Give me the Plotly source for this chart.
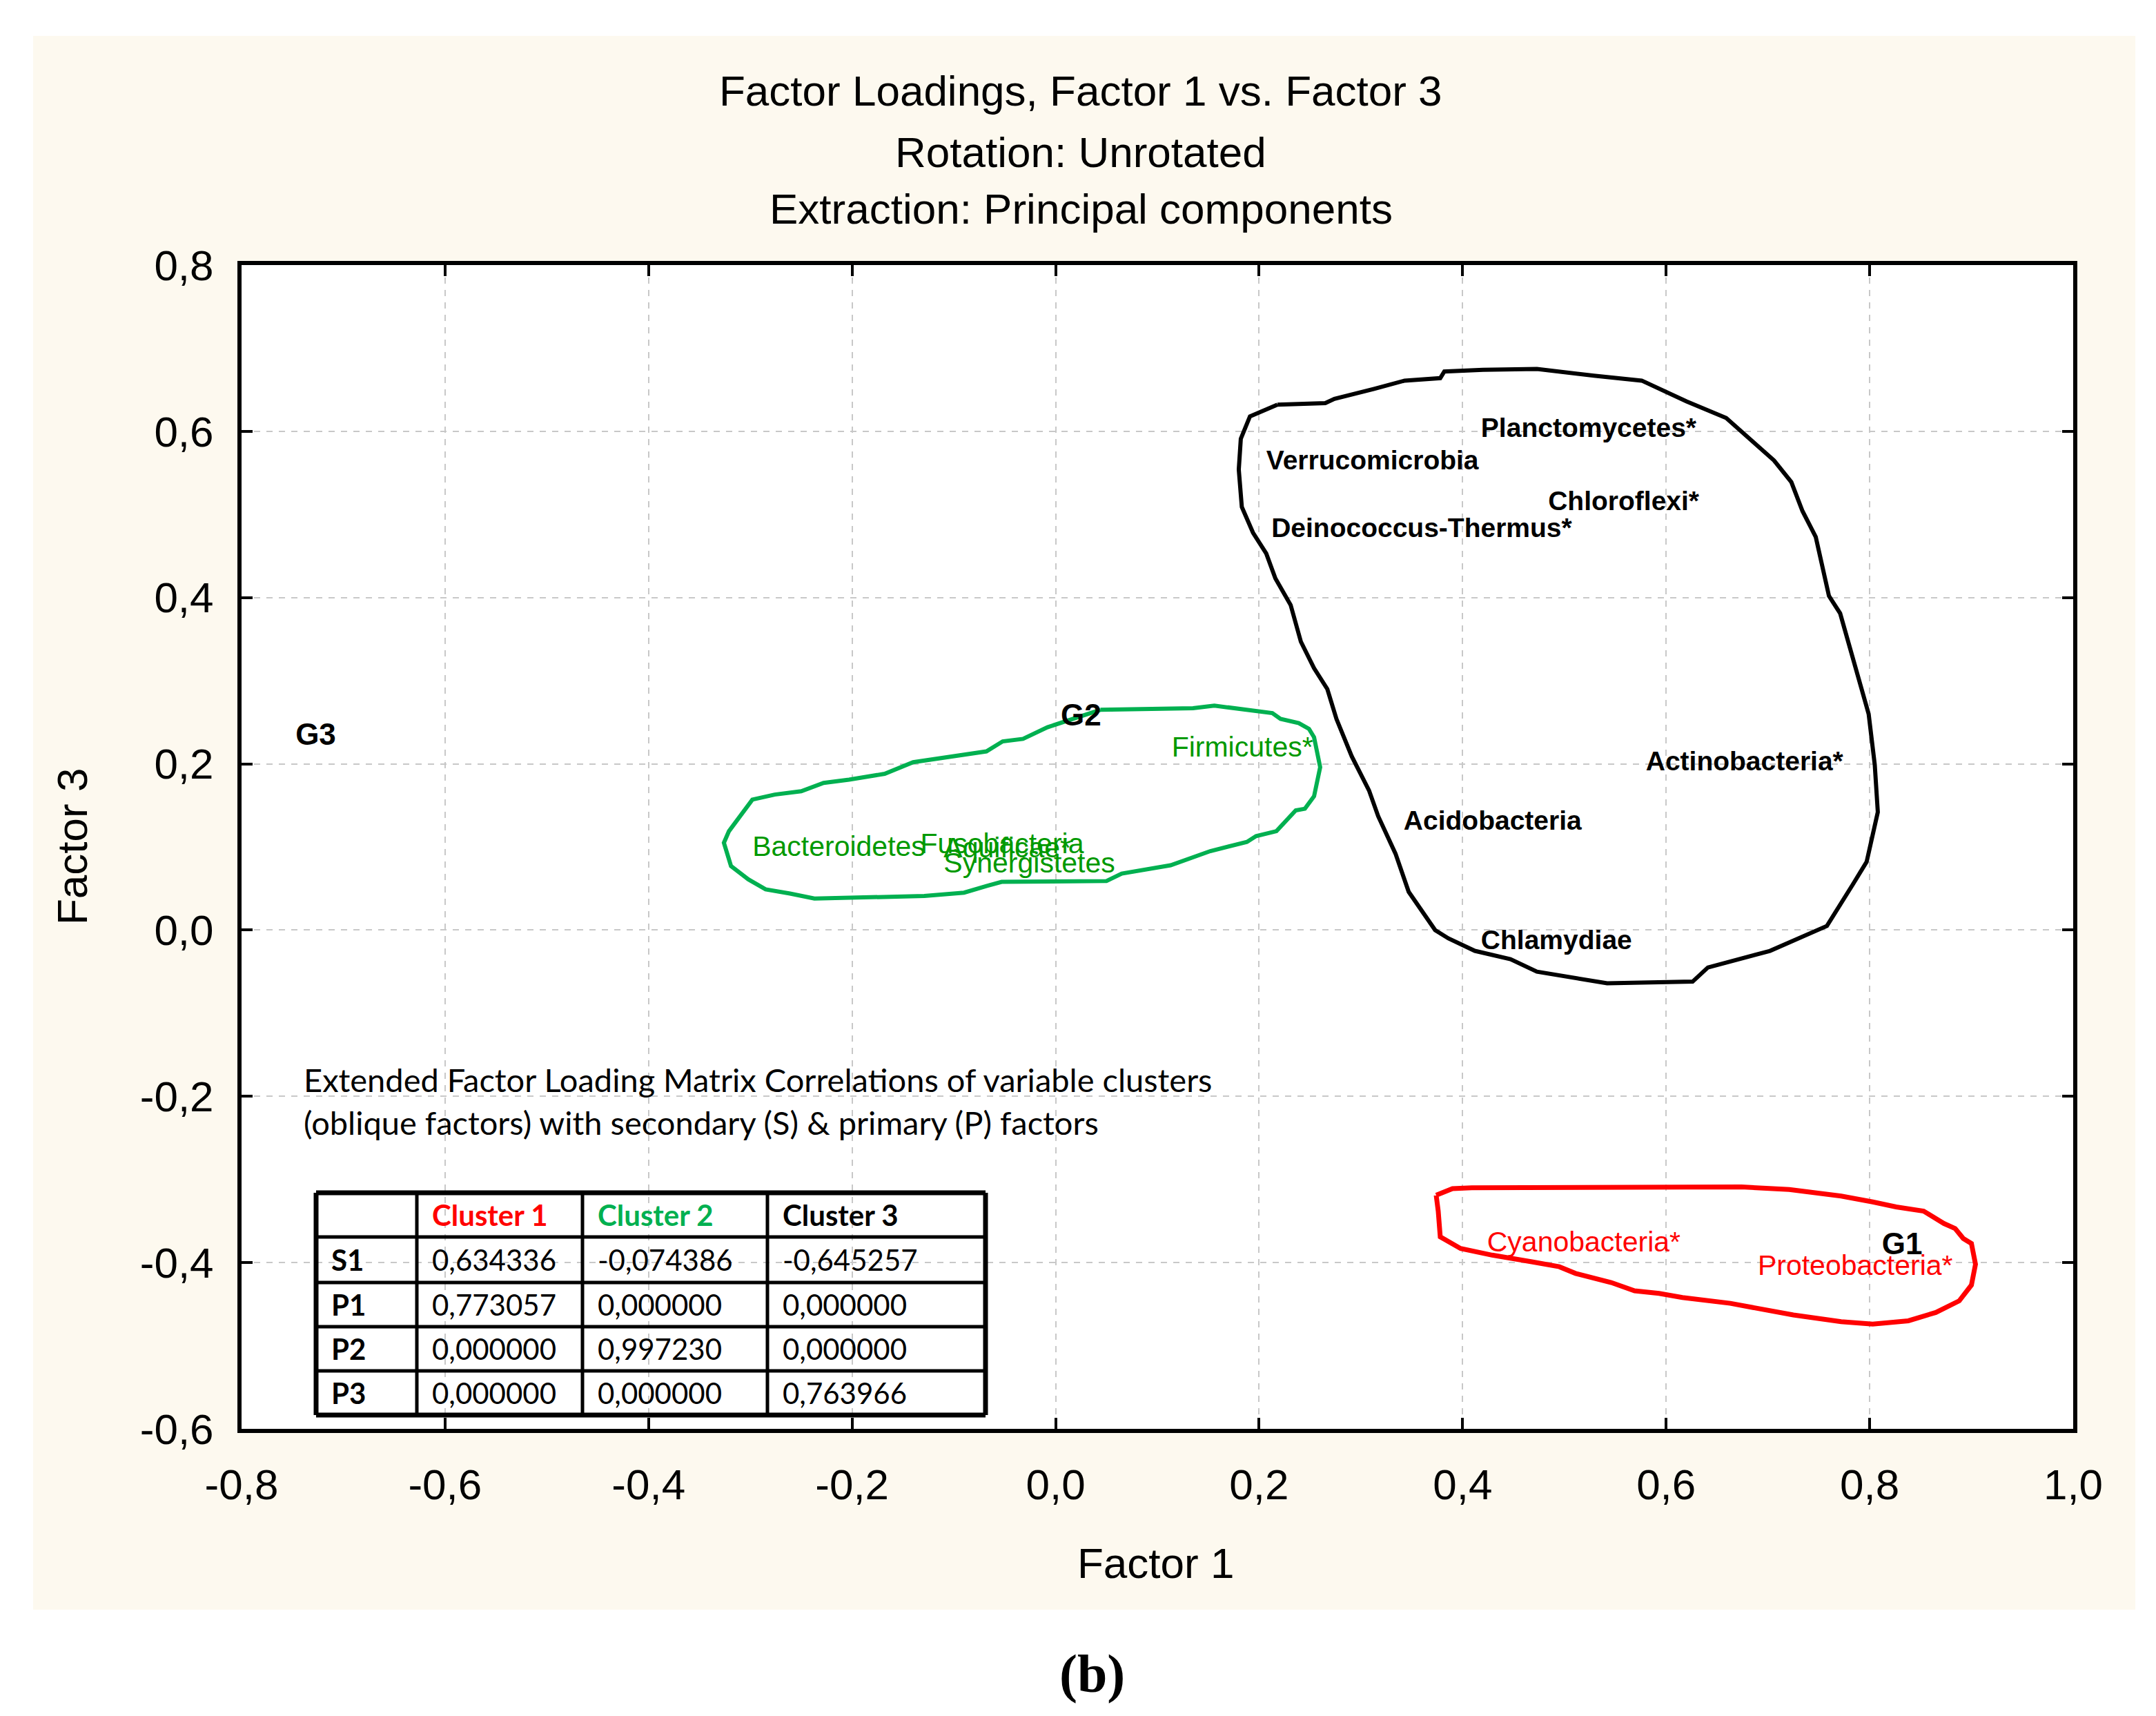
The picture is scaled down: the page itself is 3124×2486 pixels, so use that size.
import plotly.graph_objects as go

# ---------------- data ----------------
# Labelled variables (factor 1 loading, factor 3 loading)
black_names = ["Planctomycetes*", "Verrucomicrobia", "Chloroflexi*", "Deinococcus-Thermus*",
               "Actinobacteria*", "Acidobacteria", "Chlamydiae"]
black_f1 = [0.418, 0.207, 0.484, 0.212, 0.580, 0.342, 0.418]
black_f3 = [0.601, 0.562, 0.513, 0.481, 0.200, 0.129, -0.015]

green_names = ["Firmicutes*", "Bacteroidetes", "Fusobacteria", "Aquificae*", "Synergistetes"]
green_f1 = [0.114, -0.298, -0.133, -0.110, -0.110]
green_f3 = [0.217, 0.098, 0.101, 0.096, 0.078]

red_names = ["Cyanobacteria*", "Proteobacteria*"]
red_f1 = [0.424, 0.690]
red_f3 = [-0.378, -0.406]

group_names = ["G1", "G2", "G3"]
group_f1 = [0.812, 0.005, -0.747]
group_f3 = [-0.381, 0.255, 0.232]

# Hand-drawn cluster outlines (factor 1, factor 3)
black_hull_x = [0.218, 0.191, 0.182, 0.180, 0.183, 0.194, 0.207, 0.216, 0.231, 0.241, 0.254, 0.267,
                0.276, 0.291, 0.308, 0.317, 0.334, 0.347, 0.373, 0.386, 0.412, 0.447, 0.473, 0.542,
                0.626, 0.641, 0.702, 0.758, 0.784, 0.797, 0.808, 0.805, 0.799, 0.784, 0.771, 0.760,
                0.747, 0.734, 0.723, 0.706, 0.697, 0.671, 0.659, 0.620, 0.576, 0.529, 0.473, 0.420,
                0.382, 0.378, 0.343, 0.313, 0.274, 0.265, 0.218]
black_hull_y = [0.632, 0.618, 0.591, 0.554, 0.509, 0.478, 0.453, 0.423, 0.391, 0.347, 0.315, 0.290,
                0.254, 0.209, 0.168, 0.137, 0.092, 0.046, 0.000, -0.010, -0.025, -0.035, -0.050, -0.064,
                -0.062, -0.045, -0.025, 0.005, 0.056, 0.082, 0.142, 0.199, 0.260, 0.326, 0.381, 0.402,
                0.473, 0.504, 0.539, 0.565, 0.575, 0.603, 0.616, 0.636, 0.661, 0.667, 0.675, 0.674,
                0.672, 0.664, 0.661, 0.651, 0.639, 0.634, 0.632]

green_hull_x = [0.044, 0.135, 0.156, 0.195, 0.213, 0.221, 0.239, 0.249, 0.254, 0.260, 0.254, 0.245,
                0.236, 0.217, 0.197, 0.188, 0.152, 0.113, 0.065, 0.050, -0.053, -0.068, -0.090, -0.129,
                -0.237, -0.261, -0.285, -0.302, -0.319, -0.326, -0.321, -0.298, -0.276, -0.250, -0.228,
                -0.203, -0.168, -0.140, -0.099, -0.068, -0.052, -0.032, -0.008, 0.018, 0.044]
green_hull_y = [0.265, 0.267, 0.270, 0.264, 0.261, 0.254, 0.249, 0.242, 0.232, 0.196, 0.161, 0.146,
                0.144, 0.119, 0.113, 0.106, 0.095, 0.078, 0.068, 0.059, 0.058, 0.053, 0.045, 0.041,
                0.038, 0.044, 0.049, 0.061, 0.077, 0.105, 0.119, 0.157, 0.163, 0.167, 0.177,
                0.181, 0.188, 0.202, 0.210, 0.215, 0.227, 0.230, 0.244, 0.255, 0.265]

red_hull_x = [0.374, 0.390, 0.409, 0.553, 0.674, 0.721, 0.772, 0.803, 0.826, 0.853, 0.873, 0.884,
              0.892, 0.900, 0.904, 0.900, 0.888, 0.865, 0.838, 0.803, 0.772, 0.725, 0.663, 0.616,
              0.593, 0.569, 0.546, 0.511, 0.495, 0.468, 0.429, 0.398, 0.378, 0.376, 0.374]
red_hull_y = [-0.319, -0.311, -0.310, -0.309, -0.309, -0.312, -0.320, -0.327, -0.333, -0.338, -0.353, -0.359,
              -0.371, -0.377, -0.402, -0.427, -0.446, -0.460, -0.470, -0.474, -0.471, -0.463, -0.449, -0.442,
              -0.437, -0.434, -0.424, -0.413, -0.405, -0.399, -0.391, -0.383, -0.369, -0.338, -0.319]

# Axis ticks
x_ticks = [-0.8, -0.6, -0.4, -0.2, 0.0, 0.2, 0.4, 0.6, 0.8, 1.0]
x_tick_labels = ["-0,8", "-0,6", "-0,4", "-0,2", "0,0", "0,2", "0,4", "0,6", "0,8", "1,0"]
y_ticks = [-0.6, -0.4, -0.2, 0.0, 0.2, 0.4, 0.6, 0.8]
y_tick_labels = ["-0,6", "-0,4", "-0,2", "0,0", "0,2", "0,4", "0,6", "0,8"]

# Inset table
table_columns = ["", "Cluster 1", "Cluster 2", "Cluster 3"]
table_rows = ["S1", "P1", "P2", "P3"]
table_values = [
    ["0,634336", "-0,074386", "-0,645257"],
    ["0,773057", "0,000000", "0,000000"],
    ["0,000000", "0,997230", "0,000000"],
    ["0,000000", "0,000000", "0,763966"],
]
header_colors = ["#000000", "#FF0000", "#00B050", "#000000"]

title_lines = ["Factor Loadings, Factor 1 vs. Factor 3", "Rotation: Unrotated",
               "Extraction: Principal components"]
note_lines = ["Extended Factor Loading Matrix Correlations of variable clusters",
              "(oblique factors) with secondary (S) & primary (P) factors"]

# ---------------- layout geometry (pixels) ----------------
W, H = 3124, 2486
PL, PT, PR, PB = 342, 376, 2996, 2062
PW, PH = PR - PL, PB - PT


def px(x):
    return (x - PL) / PW


def py(y):
    return (PB - y) / PH


ARIAL = "Liberation Sans, Arial, sans-serif"
CALIBRI = "Lato, Carlito, Calibri, sans-serif"

fig = go.Figure()

# cluster outlines
fig.add_trace(go.Scatter(x=black_hull_x, y=black_hull_y, mode="lines",
                         line=dict(color="#000000", width=6), hoverinfo="skip"))
fig.add_trace(go.Scatter(x=green_hull_x, y=green_hull_y, mode="lines",
                         line=dict(color="#00B050", width=6), hoverinfo="skip"))
fig.add_trace(go.Scatter(x=red_hull_x, y=red_hull_y, mode="lines",
                         line=dict(color="#FF0000", width=7), hoverinfo="skip"))

# labels
fig.add_trace(go.Scatter(x=black_f1, y=black_f3, text=black_names, mode="text",
                         textposition="middle right",
                         textfont=dict(family=ARIAL, size=39, color="#000000", weight="bold")))
fig.add_trace(go.Scatter(x=green_f1, y=green_f3, text=green_names, mode="text",
                         textposition="middle right",
                         textfont=dict(family=ARIAL, size=41, color="#009900")))
fig.add_trace(go.Scatter(x=red_f1, y=red_f3, text=red_names, mode="text",
                         textposition="middle right",
                         textfont=dict(family=ARIAL, size=41, color="#FF0000")))
fig.add_trace(go.Scatter(x=group_f1, y=group_f3, text=group_names, mode="text",
                         textposition="middle right",
                         textfont=dict(family=ARIAL, size=44, color="#000000", weight="bold")))

shapes = [
    # cream outer panel
    dict(type="rect", xref="paper", yref="paper", x0=px(40), x1=px(3086), y0=py(44), y1=py(2324),
         fillcolor="#FDF9EF", line=dict(width=0), layer="below"),
    # white plot area
    dict(type="rect", xref="paper", yref="paper", x0=0, x1=1, y0=0, y1=1,
         fillcolor="#FFFFFF", line=dict(width=0), layer="below"),
]

# table grid
col_edges = [450, 596, 836, 1104, 1420]
row_edges = [1720, 1784, 1850, 1914, 1978, 2042]
for i, cx in enumerate(col_edges):
    w = 7 if i in (0, len(col_edges) - 1) else 5
    shapes.append(dict(type="line", xref="paper", yref="paper", x0=px(cx), x1=px(cx),
                       y0=py(row_edges[0]), y1=py(row_edges[-1]), line=dict(color="#000000", width=w)))
for j, ry in enumerate(row_edges):
    w = 7 if j in (0, len(row_edges) - 1) else 5
    shapes.append(dict(type="line", xref="paper", yref="paper", x0=px(col_edges[0]), x1=px(col_edges[-1]),
                       y0=py(ry), y1=py(ry), line=dict(color="#000000", width=w)))

annotations = []
# titles
for yy, t in zip([123, 212, 294], title_lines):
    annotations.append(dict(text=t, xref="paper", yref="paper", x=px(1558), y=py(yy), showarrow=False,
                            xanchor="center", yanchor="middle",
                            font=dict(family=ARIAL, size=62, color="#000000")))
# axis titles
annotations.append(dict(text="Factor 1", xref="paper", yref="paper", x=px(1666), y=py(2256), showarrow=False,
                        xanchor="center", yanchor="middle", font=dict(family=ARIAL, size=62, color="#000000")))
annotations.append(dict(text="Factor 3", xref="paper", yref="paper", x=px(96), y=py(1219), showarrow=False,
                        xanchor="center", yanchor="middle", textangle=-90,
                        font=dict(family=ARIAL, size=62, color="#000000")))
# panel label
annotations.append(dict(text="<b>(b)</b>", xref="paper", yref="paper", x=px(1574), y=py(2416), showarrow=False,
                        xanchor="center", yanchor="middle",
                        font=dict(family="Liberation Serif, Times New Roman, serif", size=78, color="#000000")))
# note text
for yy, t in zip([1556, 1618], note_lines):
    annotations.append(dict(text=t, xref="paper", yref="paper", x=px(430), y=py(yy), showarrow=False,
                            xanchor="left", yanchor="middle",
                            font=dict(family=CALIBRI, size=47, color="#000000")))
# table text
pad = 20
for c, (name, colr) in enumerate(zip(table_columns, header_colors)):
    if name:
        annotations.append(dict(text="<b>" + name + "</b>", xref="paper", yref="paper",
                                x=px(col_edges[c] + pad), y=py((row_edges[0] + row_edges[1]) / 2),
                                showarrow=False, xanchor="left", yanchor="middle",
                                font=dict(family=CALIBRI, size=42, color=colr)))
for r, rname in enumerate(table_rows):
    yc = (row_edges[r + 1] + row_edges[r + 2]) / 2
    annotations.append(dict(text="<b>" + rname + "</b>", xref="paper", yref="paper",
                            x=px(col_edges[0] + pad), y=py(yc), showarrow=False,
                            xanchor="left", yanchor="middle",
                            font=dict(family=CALIBRI, size=42, color="#000000")))
    for c, val in enumerate(table_values[r]):
        annotations.append(dict(text=val, xref="paper", yref="paper",
                                x=px(col_edges[c + 1] + pad), y=py(yc), showarrow=False,
                                xanchor="left", yanchor="middle",
                                font=dict(family=CALIBRI, size=42, color="#000000")))

axis_common = dict(showline=True, linecolor="#000000", linewidth=6, mirror="allticks",
                   ticks="inside", ticklen=16, tickwidth=4, tickcolor="#000000",
                   showgrid=True, gridcolor="#C8C8C8", gridwidth=2, griddash="dash",
                   zeroline=False, tickfont=dict(family=ARIAL, size=62, color="#000000"))

fig.update_layout(
    width=W, height=H, autosize=False,
    margin=dict(l=PL, r=W - PR, t=PT, b=H - PB),
    paper_bgcolor="#FFFFFF", plot_bgcolor="rgba(0,0,0,0)",
    showlegend=False,
    xaxis=dict(range=[-0.8, 1.0], tickvals=x_ticks, ticktext=x_tick_labels,
               ticklabelstandoff=22, **axis_common),
    yaxis=dict(range=[-0.6, 0.8], tickvals=y_ticks, ticktext=y_tick_labels,
               ticklabelstandoff=22, **axis_common),
    shapes=shapes, annotations=annotations,
)

fig.write_html("out.html")
